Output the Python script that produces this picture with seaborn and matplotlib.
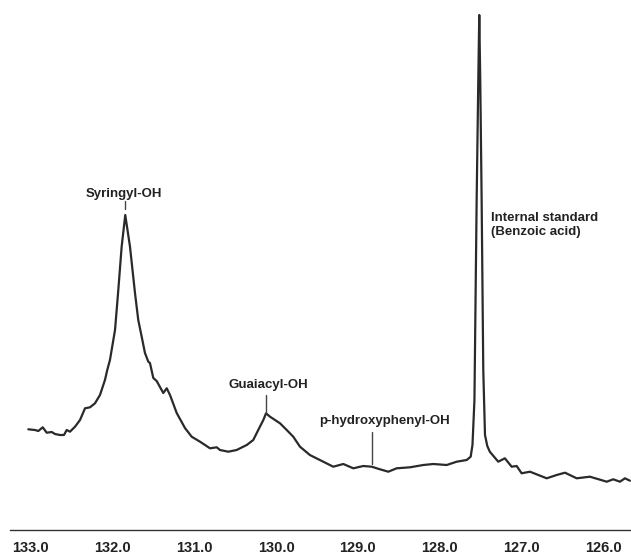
import matplotlib
matplotlib.use("Agg")
import matplotlib.pyplot as plt
import seaborn as sns
import pandas as pd
from matplotlib.ticker import MultipleLocator, FuncFormatter

# Chemical shift (ppm) and signal intensity (arbitrary units)
shift_ppm = [
    133.029, 132.947, 132.907, 132.853, 132.804, 132.743, 132.703, 132.642, 132.593, 132.560,
    132.520, 132.458, 132.397, 132.336, 132.275, 132.214, 132.153, 132.092, 132.064, 132.031,
    131.969, 131.929, 131.888, 131.844, 131.786, 131.725, 131.685, 131.643, 131.603, 131.562,
    131.542, 131.501, 131.460, 131.379, 131.337, 131.297, 131.215, 131.114, 131.032, 130.930,
    130.808, 130.726, 130.686, 130.584, 130.482, 130.359, 130.279, 130.218, 130.156, 130.123,
    130.074, 130.013, 129.952, 129.870, 129.790, 129.708, 129.587, 129.465, 129.301,
    129.178, 129.056, 128.934, 128.831, 128.730, 128.628, 128.526, 128.363, 128.200, 128.078,
    127.914, 127.792, 127.670, 127.621, 127.599, 127.575, 127.548, 127.528, 127.516, 127.504,
    127.487, 127.467, 127.446, 127.418, 127.387, 127.284, 127.203, 127.120, 127.059,
    126.998, 126.896, 126.692, 126.570, 126.468, 126.325, 126.163, 125.958, 125.878, 125.796,
    125.735, 125.674,
]
intensity = [
    100.7, 100.0, 99.0, 102.7, 97.3, 98.0, 96.0, 95.0, 95.0, 100.0,
    98.3, 103.3, 110.0, 121.7, 122.7, 126.7, 135.0, 150.0, 160.0, 170.0,
    200.0, 240.0, 283.3, 315.0, 283.3, 237.0, 210.0, 193.3, 177.0, 168.3,
    167.0, 152.0, 149.0, 137.0, 141.7, 135.0, 117.0, 102.0, 93.3, 88.3,
    81.7, 82.7, 80.0, 78.3, 80.0, 85.0, 90.0, 100.0, 110.0, 116.7,
    113.3, 110.0, 106.7, 100.0, 93.3, 83.3, 75.0, 70.0, 63.3,
    66.0, 61.7, 64.0, 63.3, 60.7, 58.3, 61.7, 62.7, 65.0, 66.0,
    65.0, 68.3, 70.0, 73.3, 85.0, 130.0, 330.0, 450.0, 515.0, 450.0,
    330.0, 160.0, 95.0, 84.0, 78.3, 68.3, 71.7, 63.3, 64.0,
    56.7, 58.3, 51.7, 55.0, 57.3, 51.7, 53.3, 48.3, 50.7, 48.3,
    51.7, 49.3,
]

# Annotations: label, text x, text y, marker x, marker y0, marker y1
ann_labels = ["Syringyl-OH", "Guaiacyl-OH", "p-hydroxyphenyl-OH"]
ann_text_x = [131.862, 130.095, 128.669]
ann_text_y = [335.7, 145.0, 109.3]
ann_line_x = [131.844, 130.123, 128.831]
ann_line_y0 = [321.0, 117.3, 66.0]
ann_line_y1 = [329.3, 135.0, 98.3]

std_label = "Internal standard\n(Benzoic acid)"
std_x = 127.373
std_y = 304.7

x_major_ticks = [133.0, 132.0, 131.0, 130.0, 129.0, 128.0, 127.0, 126.0]

df = pd.DataFrame({"ppm": shift_ppm, "intensity": intensity})

sns.set_style("white")
plt.rcParams["font.family"] = ["Liberation Sans", "DejaVu Sans"]

fig = plt.figure(figsize=(6.31, 5.54), dpi=100)
ax = fig.add_axes([10 / 631, 24 / 554, 621 / 631, 518 / 554])

sns.lineplot(data=df, x="ppm", y="intensity", sort=False, estimator=None,
             color="#2a2a2a", linewidth=1.6, ax=ax)

ax.set_xlim(133.253, 125.661)
ax.set_ylim(0, 518)

for lab, tx, ty, lx, ly0, ly1 in zip(ann_labels, ann_text_x, ann_text_y,
                                      ann_line_x, ann_line_y0, ann_line_y1):
    ax.text(tx, ty, lab, ha="center", va="center", fontsize=9.5,
            fontweight="bold", color="#222222")
    ax.plot([lx, lx], [ly0, ly1], color="#444444", linewidth=1.0)

ax.text(std_x, std_y, std_label, ha="left", va="center", fontsize=9.5,
        fontweight="bold", color="#222222", linespacing=1.25)

for s in ["left", "right", "top"]:
    ax.spines[s].set_visible(False)
ax.spines["bottom"].set_color("#333333")
ax.spines["bottom"].set_linewidth(1.0)

ax.set_yticks([])
ax.set_xticks(x_major_ticks)
ax.xaxis.set_minor_locator(MultipleLocator(0.25))
ax.xaxis.set_major_formatter(FuncFormatter(lambda v, p: f"{v:.1f}"))
ax.tick_params(axis="x", which="major", direction="inout", length=6, width=1.0,
               color="#333333", pad=5, labelsize=10.5)
ax.tick_params(axis="x", which="minor", direction="inout", length=4, width=1.0,
               color="#333333")
for t in ax.get_xticklabels():
    t.set_fontweight("bold")
    t.set_color("#222222")

ax.set_xlabel("")
ax.set_ylabel("")

fig.savefig("out.png", dpi=100)
